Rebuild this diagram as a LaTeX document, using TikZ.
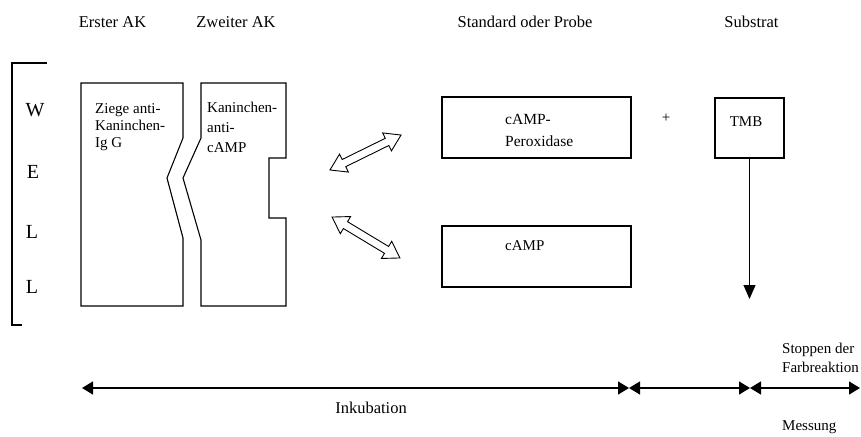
\documentclass[tikz,border=0pt]{standalone}
\usepackage{fontspec}
\setmainfont{Liberation Serif}
\usetikzlibrary{arrows.meta}
\tikzset{ttip/.tip={Triangle[length=11pt,width=13pt]}}
\begin{document}
\begin{tikzpicture}[x=1pt,y=-1pt,
  lbl/.style={inner sep=0pt, font=\fontsize{16.5}{19}\selectfont},
  boxtxt/.style={inner sep=0pt, anchor=west, align=left, font=\fontsize{15}{17}\selectfont},
  smalltxt/.style={inner sep=0pt, anchor=west, align=left, font=\fontsize{15}{19}\selectfont},
  well/.style={inner sep=0pt, font=\fontsize{20}{24}\selectfont},
  rbox/.style={draw, line width=1.6pt, inner sep=0pt},
  abox/.style={draw, line width=1.1pt, line join=miter},
  dbl/.style={draw, line width=0.9pt, fill=white, line join=miter},
  tl/.style={line width=1.3pt}
]
\useasboundingbox (0,0) rectangle (861,436);

% column headers
\node[lbl] (h1) at (112.5,22) {Erster AK};
\node[lbl] (h2) at (236,22) {Zweiter AK};
\node[lbl] (h3) at (525,22) {Standard oder Probe};
\node[lbl] (h4) at (751.5,22) {Substrat};

% WELL bracket
\draw[line width=1.2pt] (47,63) -- (12,63) -- (12,325) -- (22,325);
\node[well] (w1) at (35,110) {W};
\node[well] (w2) at (33,172) {E};
\node[well] (w3) at (32,232) {L};
\node[well] (w4) at (32,287) {L};

% antibodies
\draw[abox] (183,138) -- (183,83) -- (81,83) -- (81,306) -- (183,306) -- (183,238) -- (167,178) -- cycle;
\draw[abox] (201,138) -- (201,83) -- (286,83) -- (286,158) -- (269,158) -- (269,218) -- (286,218) -- (286,306) -- (201,306) -- (201,240) -- (183,178) -- cycle;
\node[boxtxt] (ak1) at (95,127) {Ziege anti-\\Kaninchen-\\Ig G};
\node[smalltxt, font=\fontsize{15}{20}\selectfont] (ak2) at (207,127) {Kaninchen-\\anti-\\cAMP};

% hollow double arrows
\begin{scope}[shift={(365.5,152.5)}, rotate=26.2]
  \draw[dbl] (-39.6,0) -- (-24,-10) -- (-24,-4) -- (24,-4) -- (24,-10) -- (39.6,0) -- (24,10) -- (24,4) -- (-24,4) -- (-24,10) -- cycle;
\end{scope}
\begin{scope}[shift={(366,237.5)}, rotate=-31.1]
  \draw[dbl] (-39.6,0) -- (-24,-10) -- (-24,-4) -- (24,-4) -- (24,-10) -- (39.6,0) -- (24,10) -- (24,4) -- (-24,4) -- (-24,10) -- cycle;
\end{scope}

% standard / sample boxes
\node[rbox, minimum width=189pt, minimum height=61pt] (perox) at (536.5,127.5) {};
\node[rbox, minimum width=189pt, minimum height=61pt] (camp) at (536.5,256.5) {};
\node[boxtxt, font=\fontsize{15.5}{22}\selectfont] (pt) at (505,130) {cAMP-\\Peroxidase};
\node[boxtxt] (ct) at (505,246) {cAMP};

\node[inner sep=0pt, font=\fontsize{15}{17}\selectfont] (plus) at (666,118) {+};

% substrate
\node[rbox, minimum width=69pt, minimum height=60pt] (tmb) at (749.5,128) {};
\node[inner sep=0pt, font=\fontsize{15}{17}\selectfont] (tmbt) at (746,122) {TMB};
\coordinate (tmbend) at (749.5,299);
\draw[line width=1pt, -{Triangle[length=14pt,width=12pt]}] (tmb.south) -- (tmbend);

% time line
\coordinate (t0) at (82,388);
\coordinate (t1) at (629,388);
\coordinate (t2) at (750,388);
\coordinate (t3) at (860,388);
\draw[tl, {ttip}-{ttip}] (t0) -- (t1);
\draw[tl, {ttip}-{ttip}] (t1) -- (t2);
\draw[tl, {ttip}-{ttip}] (t2) -- (t3);

\node[lbl] (ink) at (371,408) {Inkubation};
\node[smalltxt] (stop) at (782,357.5) {Stoppen der\\Farbreaktion};
\node[smalltxt] (mess) at (782,427) {Messung};
\end{tikzpicture}
\end{document}
